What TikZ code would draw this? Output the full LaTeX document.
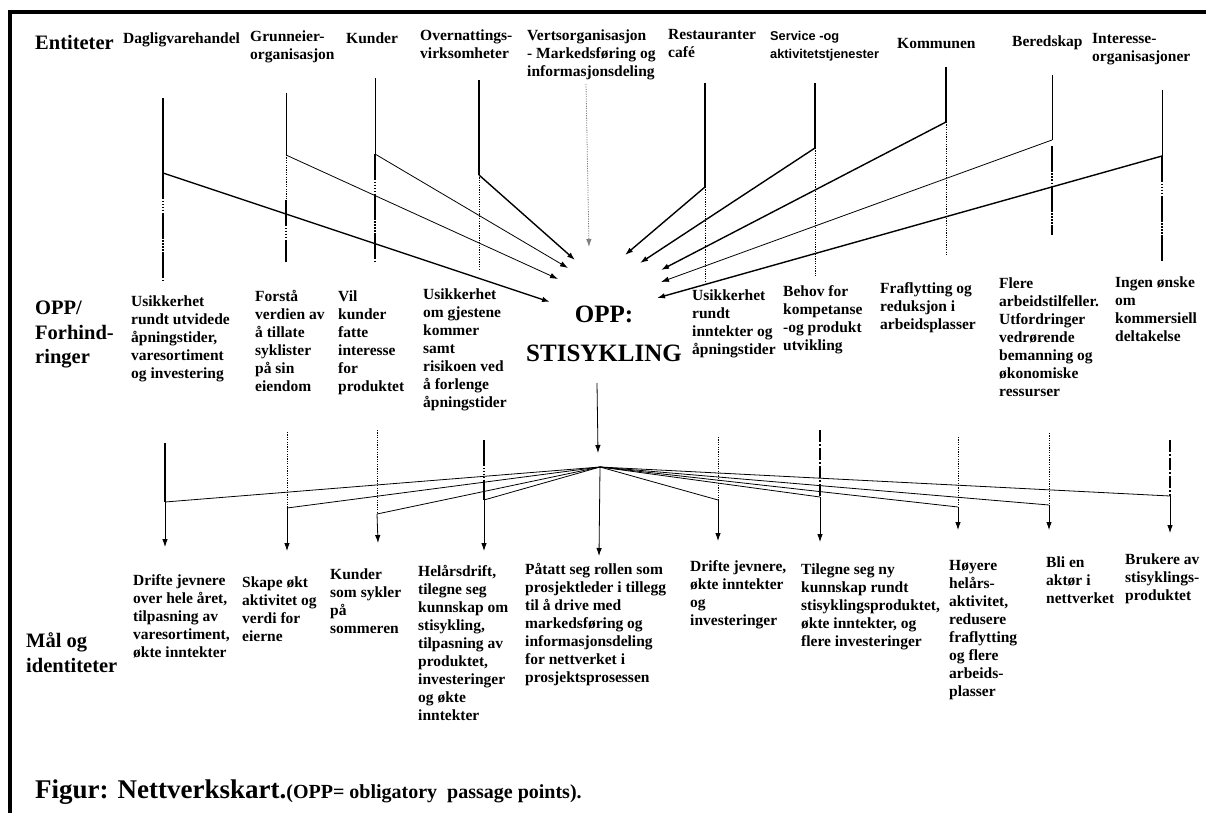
\documentclass[tikz,border=0pt]{standalone}
\usepackage{fontspec}
\setmainfont{Liberation Serif}
\newfontfamily\sansb{Liberation Sans}
\usetikzlibrary{arrows.meta}
\begin{document}
\begin{tikzpicture}[x=1pt,y=-1pt,
  lbl/.style={anchor=north west,inner sep=0pt,align=left,font=\bfseries\fontsize{15.5}{18}\selectfont,execute at begin node=\strut},
  big/.style={anchor=north west,inner sep=0pt,align=left,font=\bfseries\fontsize{20.5}{24.5}\selectfont,execute at begin node=\strut},
  opp/.style={inner sep=0pt,align=center,font=\bfseries\fontsize{25}{39}\selectfont},
  arr/.style={-{Latex[length=8pt,width=5.5pt]}},
  thinln/.style={line width=0.8pt},
  thkln/.style={line width=1.4pt},
  dotln/.style={line width=0.8pt,dash pattern=on 1.2pt off 1.2pt},
  mixln/.style={line width=1.7pt,dash pattern=on 26pt off 1.5pt on 1.5pt off 1.5pt on 1.5pt off 1.5pt on 1.5pt off 1.5pt on 1.5pt off 1.5pt},
  dashln/.style={line width=1.7pt,dash pattern=on 12pt off 2pt on 2pt off 2pt}
]
\useasboundingbox (0,0) rectangle (1206,813);
% frame
\draw[line width=3.5pt] (8,12) -- (1206,12);
\draw[line width=3.5pt] (10,12) -- (10,813);

% ---------- header ----------
\node[big] (hEnt) at (35,31.8) {Entiteter};
\node[lbl] (e1) at (123,30.4) {Dagligvarehandel};
\node[lbl] (e2) at (250,30.4) {Grunneier-\\organisasjon};
\node[lbl] (e3) at (346,30.4) {Kunder};
\node[lbl] (e4) at (420,29.4) {Overnattings-\\virksomheter};
\node[lbl] (e5) at (527,29.4) {Vertsorganisasjon\\- Markedsføring og\\informasjonsdeling};
\node[lbl] (e6) at (668,29.4) {Restauranter\\café};
\node[anchor=north west,inner sep=0pt,align=left,font=\sansb\bfseries\fontsize{12.8}{18}\selectfont,execute at begin node=\strut,fill=white] (e7) at (770,31.4) {Service -og\\aktivitetstjenester};
\node[lbl] (e8) at (897,35.4) {Kommunen};
\node[lbl] (e9) at (1012,33.4) {Beredskap};
\node[lbl] (e10) at (1092,33.4) {Interesse-\\organisasjoner};

% ---------- middle row ----------
\node[big] (hOpp) at (35,300.8) {OPP/\\Forhind-\\ringer};
\node[lbl] (m1) at (131,295.4) {Usikkerhet\\rundt utvidede\\åpningstider,\\varesortiment\\og investering};
\node[lbl] (m2) at (255,290.4) {Forstå\\verdien av\\å tillate\\syklister\\på sin\\eiendom};
\node[lbl] (m3) at (338,290.4) {Vil\\kunder\\fatte\\interesse\\for\\produktet};
\node[lbl] (m4) at (423,288.4) {Usikkerhet\\om gjestene\\kommer\\samt\\risikoen ved\\å forlenge\\åpningstider};
\node[opp,anchor=base] (oppA) at (604,322) {OPP:};
\node[opp,anchor=base] (oppB) at (604,361) {STISYKLING};
\node[lbl] (m6) at (692,289.4) {Usikkerhet\\rundt\\inntekter og\\åpningstider};
\node[lbl] (m7) at (783,285.4) {Behov for\\kompetanse\\-og produkt\\utvikling};
\node[lbl] (m8) at (880,282.4) {Fraflytting og\\reduksjon i\\arbeidsplasser};
\node[lbl] (m9) at (999,277.4) {Flere\\arbeidstilfeller.\\Utfordringer\\vedrørende\\bemanning og\\økonomiske\\ressurser};
\node[lbl] (m10) at (1115,276.4) {Ingen ønske\\om\\kommersiell\\deltakelse};

% ---------- bottom row ----------
\node[big] (hMal) at (26,632.8) {Mål og\\identiteter};
\node[lbl] (g1) at (133,574.4) {Drifte jevnere\\over hele året,\\tilpasning av\\varesortiment,\\økte inntekter};
\node[lbl] (g2) at (242,576.4) {Skape økt\\aktivitet og\\verdi for\\eierne};
\node[lbl] (g3) at (330,568.4) {Kunder\\som sykler\\på\\sommeren};
\node[lbl] (g4) at (418,565.4) {Helårsdrift,\\tilegne seg\\kunnskap om\\stisykling,\\tilpasning av\\produktet,\\investeringer\\og økte\\inntekter};
\node[lbl] (g5) at (525,563.4) {Påtatt seg rollen som\\prosjektleder i tillegg\\til å drive med\\markedsføring og\\informasjonsdeling\\for nettverket i\\prosjektsprosessen};
\node[lbl] (g6) at (690,560.4) {Drifte jevnere,\\økte inntekter\\og\\investeringer};
\node[lbl] (g7) at (801,563.4) {Tilegne seg ny\\kunnskap rundt\\stisyklingsproduktet,\\økte inntekter, og\\flere investeringer};
\node[lbl] (g8) at (949,560.4) {Høyere\\helårs-\\aktivitet,\\redusere\\fraflytting\\og flere\\arbeids-\\plasser};
\node[lbl] (g9) at (1046,556.4) {Bli en\\aktør i\\nettverket};
\node[lbl] (g10) at (1125,553.4) {Brukere av\\stisyklings-\\produktet};

% caption
\node[anchor=base west,inner sep=0pt,font=\bfseries] (cap) at (35,798) {\fontsize{27}{30}\selectfont Figur: Nettverkskart.\fontsize{20}{22}\selectfont(OPP= obligatory\ \ passage points).};

% ---------- top connectors ----------
\coordinate (t1) at (163,98);  \coordinate (j1) at (163,173); \coordinate (b1) at (163,280); \coordinate (p1) at (550,302);
\coordinate (t2) at (286,93);  \coordinate (j2) at (286,155); \coordinate (b2) at (286,262); \coordinate (p2) at (558,279);
\coordinate (t3) at (375,78);  \coordinate (j3) at (375,154); \coordinate (b3) at (375,262); \coordinate (p3) at (568,268);
\coordinate (t4) at (479,80);  \coordinate (j4) at (479,175); \coordinate (b4) at (479,270); \coordinate (p4) at (575,260);
\coordinate (t5) at (586,84);  \coordinate (p5) at (589,247);
\coordinate (t6) at (705,83);  \coordinate (j6) at (705,187); \coordinate (b6) at (705,283); \coordinate (p6) at (625,255);
\coordinate (t7) at (815,83);  \coordinate (j7) at (815,148); \coordinate (b7) at (815,277); \coordinate (p7) at (640,263);
\coordinate (t8) at (946,67);  \coordinate (j8) at (946,122); \coordinate (b8) at (946,255); \coordinate (p8) at (661,270);
\coordinate (t9) at (1052,75); \coordinate (j9) at (1052,140); \coordinate (b9) at (1052,235); \coordinate (p9) at (661,282);
\coordinate (t10) at (1162,90); \coordinate (j10) at (1162,156); \coordinate (b10) at (1162,262); \coordinate (p10) at (657,298);
\coordinate (m2a) at (286,200); \coordinate (m9a) at (1052,146);

\draw[thkln] (t1) -- (j1); \draw[mixln] (j1) -- (b1); \draw[thkln,arr] (j1) -- (p1);
\draw[thinln] (t2) -- (j2); \draw[dotln] (j2) -- (m2a); \draw[mixln] (m2a) -- (b2); \draw[thinln,arr] (j2) -- (p2);
\draw[thinln] (t3) -- (j3); \draw[mixln] (j3) -- (b3); \draw[thinln,arr] (j3) -- (p3);
\draw[thkln] (t4) -- (j4); \draw[dotln] (j4) -- (b4); \draw[thkln,arr] (j4) -- (p4);
\draw[dotln,gray,arr] (t5) -- (p5);
\draw[thkln] (t6) -- (j6); \draw[dotln] (j6) -- (b6); \draw[thkln,arr] (j6) -- (p6);
\draw[thkln] (t7) -- (j7); \draw[dotln] (j7) -- (b7); \draw[thkln,arr] (j7) -- (p7);
\draw[thkln] (t8) -- (j8); \draw[dotln] (j8) -- (b8); \draw[thkln,arr] (j8) -- (p8);
\draw[thinln] (t9) -- (j9); \draw[mixln] (m9a) -- (b9); \draw[thinln,arr] (j9) -- (p9);
\draw[thinln] (t10) -- (j10); \draw[mixln] (j10) -- (b10); \draw[thkln,arr] (j10) -- (p10);

% ---------- bottom connectors ----------
\coordinate (oppTop) at (597,383);
\coordinate (hub) at (600,467);
\coordinate (hubIn) at (598,453);
\draw[thinln,arr] (oppTop) -- (hubIn);

\coordinate (u1) at (165,443);  \coordinate (k1) at (165,502);  \coordinate (a1) at (165,547);
\coordinate (u2) at (287,432);  \coordinate (k2) at (287,508);  \coordinate (a2) at (287,551);
\coordinate (u3) at (377,430);  \coordinate (k3) at (377,514);  \coordinate (a3) at (378,543);
\coordinate (u4) at (484,440);  \coordinate (k4) at (484,500);  \coordinate (a4) at (484,551);
\coordinate (a5) at (599,556);
\coordinate (u6) at (718,437);  \coordinate (k6) at (718,500);  \coordinate (a6) at (718,541);
\coordinate (u7) at (820,430);  \coordinate (k7) at (820,497);  \coordinate (a7) at (820,542);
\coordinate (u8) at (958,437);  \coordinate (k8) at (958,507);  \coordinate (a8) at (958,530);
\coordinate (u9) at (1049,433); \coordinate (k9) at (1049,505); \coordinate (a9) at (1049,530);
\coordinate (u10) at (1170,440); \coordinate (k10) at (1170,496); \coordinate (a10) at (1170,533);

\draw[thkln] (u1) -- (k1);
\draw[dotln] (u2) -- (k2);
\draw[dotln] (u3) -- (k3);
\draw[mixln] (u4) -- (k4);
\draw[dotln] (u6) -- (k6);
\draw[dashln] (u7) -- (k7);
\draw[dotln] (u8) -- (k8);
\draw[dotln] (u9) -- (k9);
\draw[dashln] (u10) -- (k10);

\foreach \i in {1,2,3,4,6,7,8,9,10}{
  \draw[thinln] (hub) -- (k\i);
  \draw[thinln,arr] (k\i) -- (a\i);
}
\draw[thinln,arr] (hub) -- (a5);
\end{tikzpicture}
\end{document}
